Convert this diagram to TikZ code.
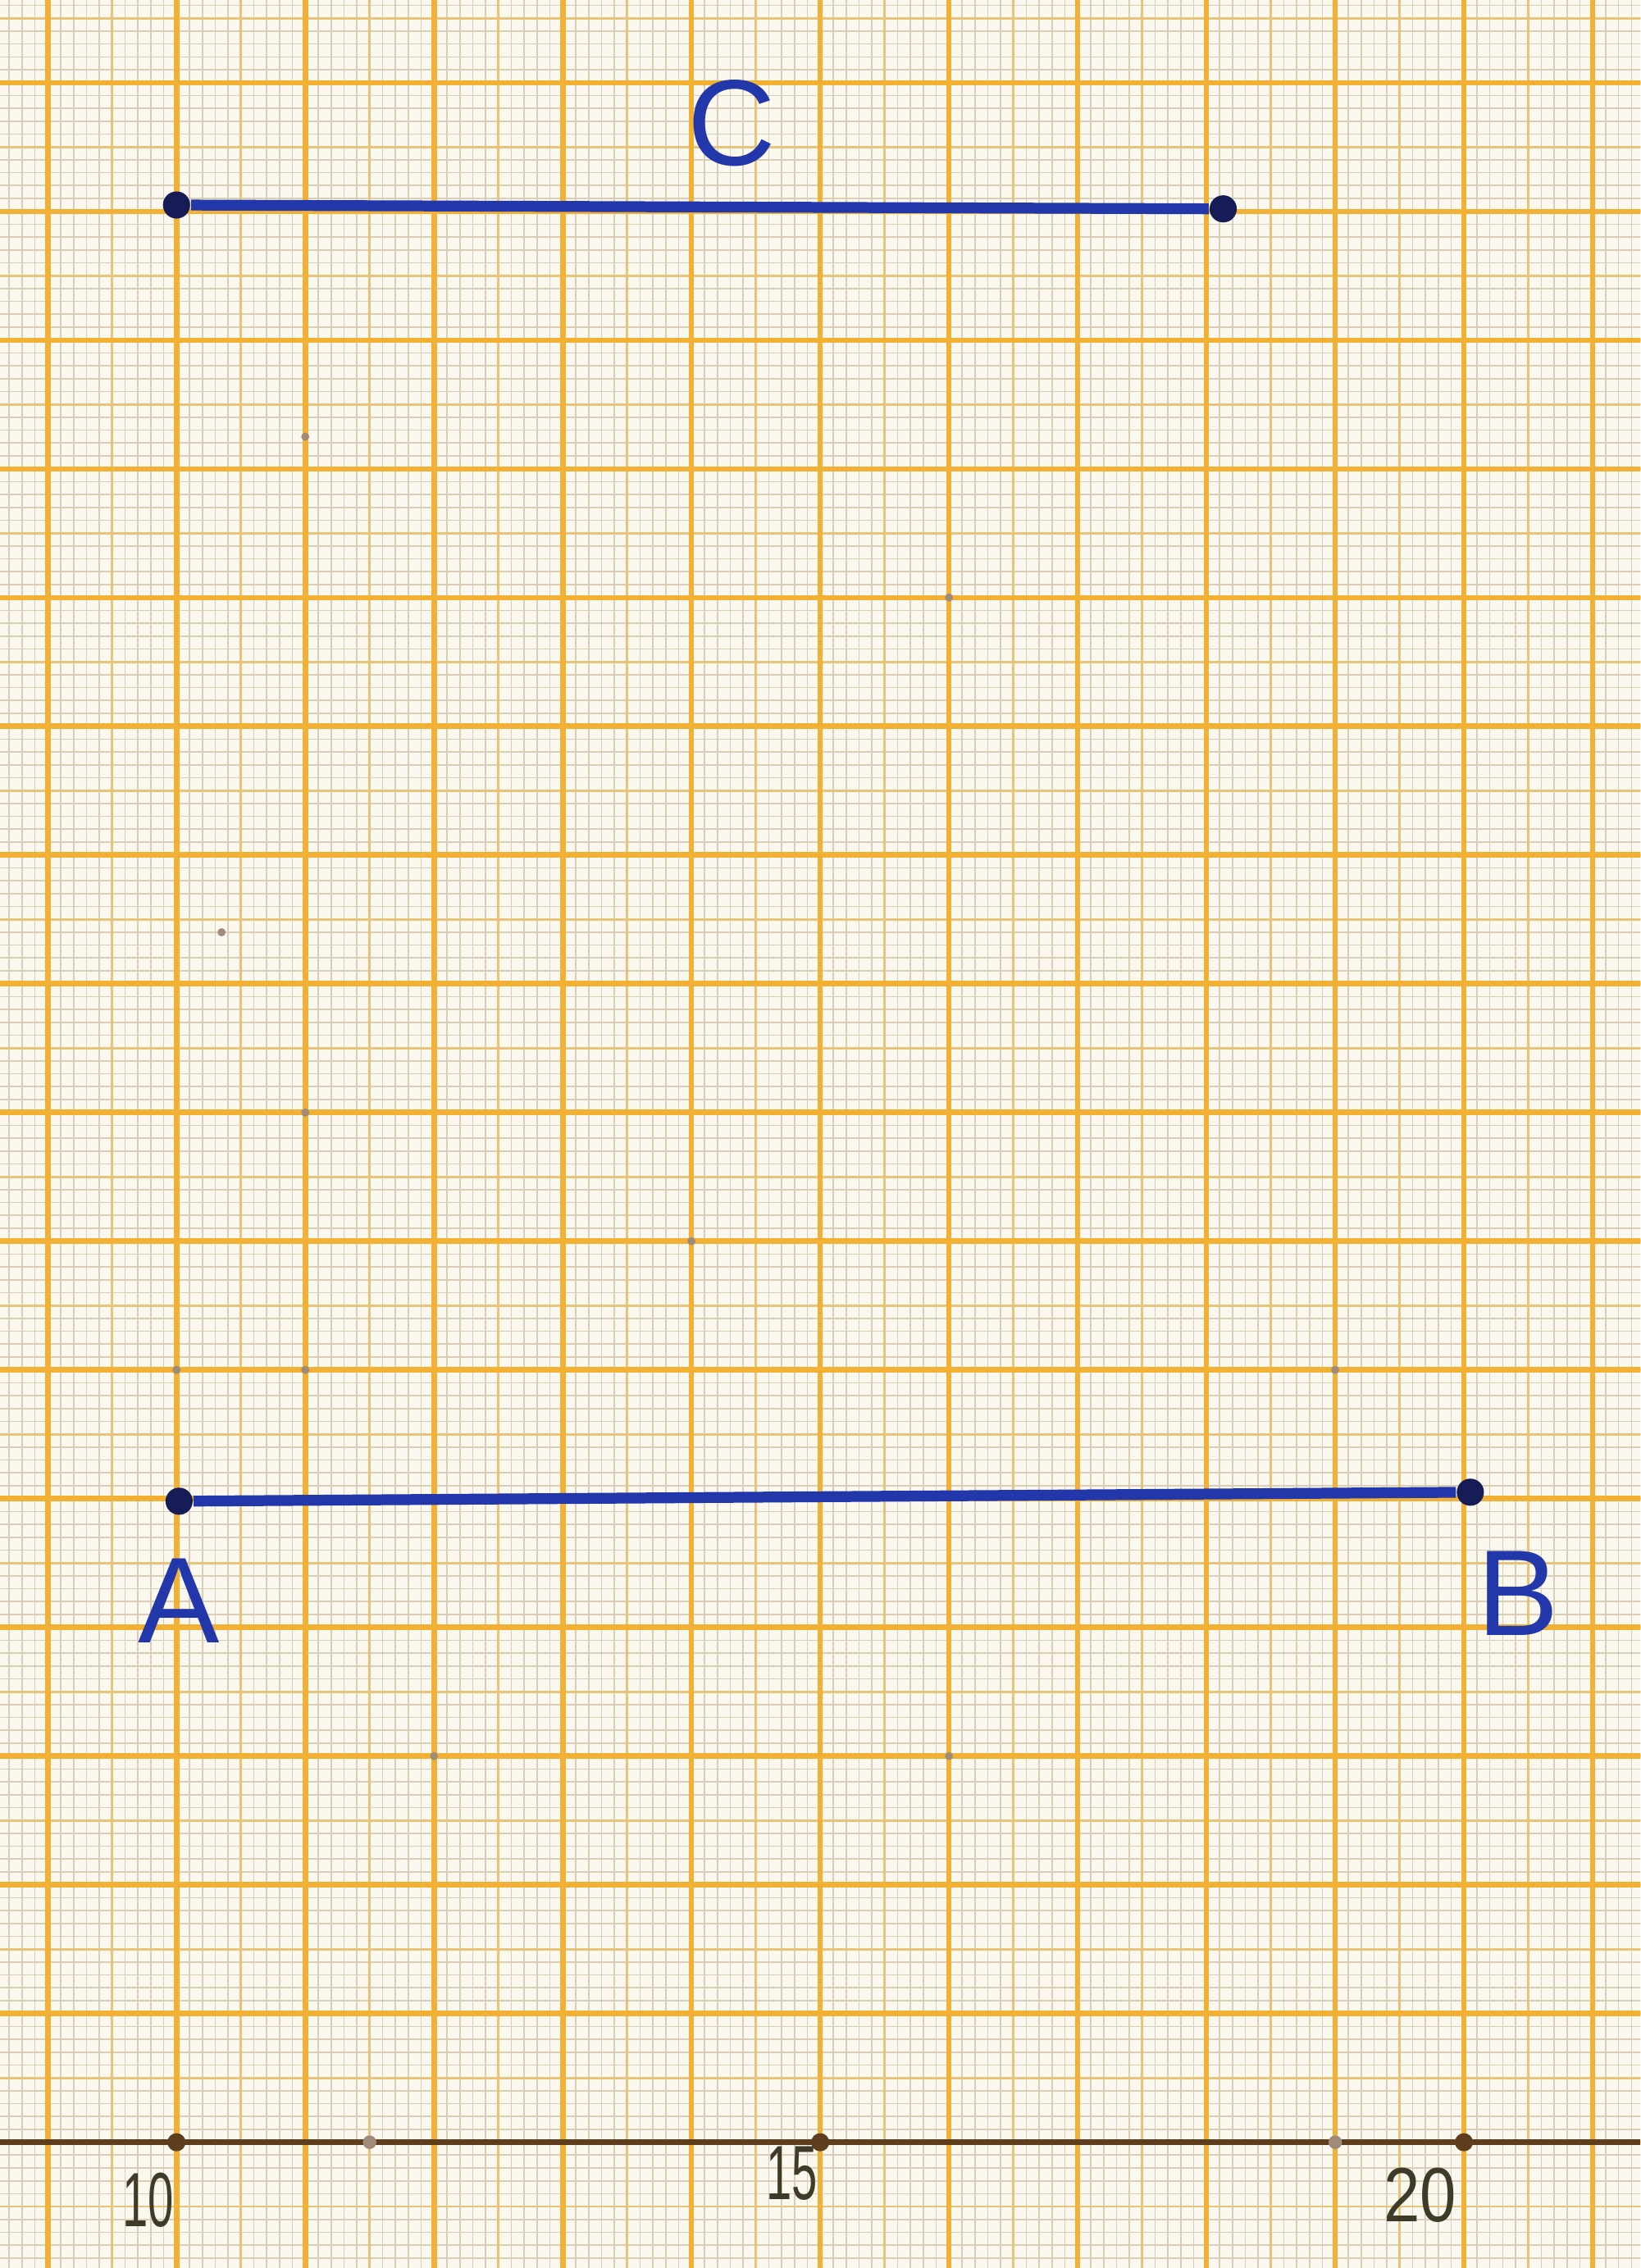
\documentclass[tikz,border=0pt]{standalone}
\usepackage{fontspec}
\setmainfont{Liberation Sans}
\usetikzlibrary{positioning}

\definecolor{carta}{RGB}{251,248,239}
\definecolor{minore}{RGB}{218,206,182}
\definecolor{medio}{RGB}{232,196,122}
\definecolor{maggiore}{RGB}{242,176,52}
\definecolor{asse}{RGB}{95,62,30}
\definecolor{inchiostro}{RGB}{34,56,170}
\definecolor{inchiostroscuro}{RGB}{22,28,85}
\definecolor{matita}{RGB}{62,60,40}

\begin{document}
\begin{tikzpicture}[
    x=1cm, y=1cm,
    % punti e segmenti a penna
    punto/.style={circle, fill=inchiostroscuro, inner sep=0pt, minimum size=6pt},
    segmento/.style={draw=inchiostro, line width=2.4pt},
    lettera/.style={text=inchiostro, inner sep=2pt, font=\fontsize{27}{27}\selectfont},
    % asse graduato a matita
    asse/.style={draw=asse, line width=1.2pt},
    tacca/.style={circle, fill=asse, inner sep=0pt, minimum size=4pt},
    segno/.style={circle, fill=asse!60, inner sep=0pt, minimum size=1.8pt},
    numero/.style={text=matita, inner sep=1pt, font=\fontsize{17}{17}\selectfont}
  ]

  % Foglio millimetrato
  \useasboundingbox[fill=carta] (8.629,-0.977) rectangle (21.371,16.643);
  \begin{scope}
    \clip (8.629,-0.977) rectangle (21.371,16.643);
    \draw[minore, line width=0.3pt, step=0.1] (8.5,-1.1) grid (21.5,16.8);
    \draw[medio, line width=0.5pt, step=0.5] (8.5,-1.1) grid (21.5,16.8);
    \draw[maggiore, line width=1.2pt, step=1] (8.5,-1.1) grid (21.5,16.8);
  \end{scope}

  % Asse
  \coordinate (asseS) at (8.629,0);
  \coordinate (asseD) at (21.371,0);
  \draw[asse] (asseS) -- (asseD);

  \node (t10) [tacca] at (10,0) {};
  \node (t15) [tacca] at (15,0) {};
  \node (t20) [tacca] at (20,0) {};
  \node (t11) [segno, minimum size=3pt] at (11.5,0) {};
  \node (t19) [segno, minimum size=3pt] at (19,0) {};

  \node (n10) [numero] at (9.78,-0.45) {\scalebox{0.6}[1]{10}};
  \node (n15) [numero] at (14.78,-0.24) {\scalebox{0.6}[1]{15}};
  \node (n20) [numero] at (19.66,-0.41) {\scalebox{0.85}[1]{20}};

  % Segni di matita sul foglio
  \foreach \p [count=\i] in {(11,13.25),(16,12),(14,7),(11,8),(10,6),(11,6),(19,6),(12,3),(16,3),(10.35,9.4)}
    \node (s\i) [segno] at \p {};

  % Segmento C
  \node (C1) [punto] at (10,15.05) {};
  \node (C2) [punto] at (18.13,15.02) {};
  \draw[segmento] (C1) -- node[lettera, above=0.2cm, xshift=0.25cm] (labC) {C} (C2);

  % Segmento AB
  \node (A) [punto] at (10.02,4.98) {};
  \node (B) [punto] at (20.05,5.05) {};
  \draw[segmento] (A) -- (B);

  \node (labA) [lettera, below=0.26cm of A] {A};
  \node (labB) [lettera, below right=0.3cm and -0.1cm of B] {B};

\end{tikzpicture}
\end{document}
